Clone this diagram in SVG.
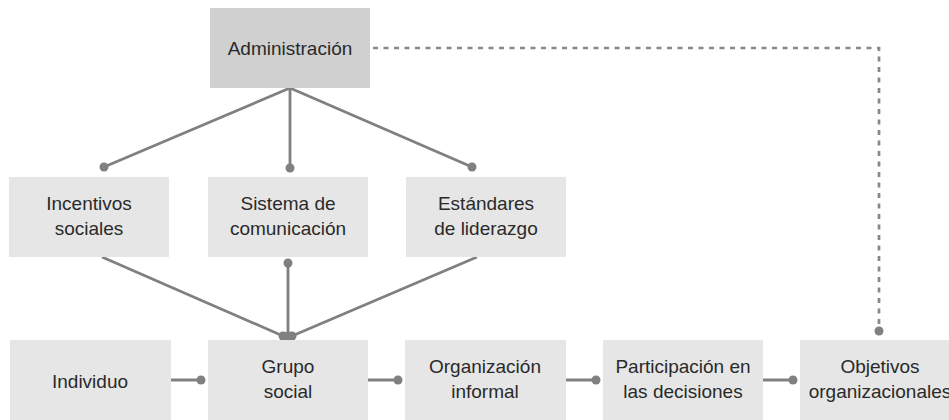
<svg xmlns="http://www.w3.org/2000/svg" width="949" height="420" viewBox="0 0 949 420">
<style>
.box{fill:#e6e6e6}
.adm{fill:#d0d0d0}
.t{font-family:"Liberation Sans",Arial,sans-serif;font-size:19px;fill:#2a2a2a;text-anchor:middle}
.ln{stroke:#808080;stroke-width:2.8;fill:none}
.ds{stroke:#888;stroke-width:2.7;fill:none;stroke-dasharray:5 5.5}
.dot{fill:#808080}
</style>
<rect width="949" height="420" fill="#fff"/>
<g id="connectors">
<path class="ln" d="M290 88 L104 167 M290 88 L290 168 M290 88 L472 167"/>
<circle class="dot" cx="104" cy="167" r="4.5"/>
<circle class="dot" cx="290" cy="168" r="4.5"/>
<circle class="dot" cx="472" cy="167" r="4.5"/>
<path class="ln" d="M102 257 L283 336 M288 263 L288 336 M477 257 L292 336"/>
<circle class="dot" cx="288" cy="263" r="4.5"/>
<circle class="dot" cx="283" cy="336" r="4.5"/>
<circle class="dot" cx="292" cy="336" r="4.5"/>
<circle class="dot" cx="288" cy="336" r="4.5"/>
<path class="ln" d="M171 380 H201 M368 380 H398 M566 380 H596 M763 380 H793"/>
<circle class="dot" cx="201" cy="380" r="4.5"/>
<circle class="dot" cx="398" cy="380" r="4.5"/>
<circle class="dot" cx="596" cy="380" r="4.5"/>
<circle class="dot" cx="793" cy="380" r="4.5"/>
<path class="ds" d="M373 48 H879 V330"/>
<circle class="dot" cx="879" cy="331" r="4.5"/>
</g>
<g id="administracion"><rect class="adm" x="210" y="8" width="160" height="80"/><text class="t" x="290" y="55">Administración</text></g>
<g id="incentivos"><rect class="box" x="9" y="177" width="160" height="80"/><text class="t" x="89" y="210">Incentivos</text><text class="t" x="89" y="235">sociales</text></g>
<g id="sistema"><rect class="box" x="208" y="177" width="160" height="80"/><text class="t" x="288" y="210">Sistema de</text><text class="t" x="288" y="235">comunicación</text></g>
<g id="estandares"><rect class="box" x="406" y="177" width="160" height="80"/><text class="t" x="486" y="210">Estándares</text><text class="t" x="486" y="235">de liderazgo</text></g>
<g id="individuo"><rect class="box" x="10" y="340" width="161" height="80"/><text class="t" x="90" y="388">Individuo</text></g>
<g id="grupo"><rect class="box" x="208" y="340" width="160" height="80"/><text class="t" x="288" y="373">Grupo</text><text class="t" x="288" y="398">social</text></g>
<g id="organizacion"><rect class="box" x="405" y="340" width="161" height="80"/><text class="t" x="485" y="373">Organización</text><text class="t" x="485" y="398">informal</text></g>
<g id="participacion"><rect class="box" x="603" y="340" width="160" height="80"/><text class="t" x="683" y="373">Participación en</text><text class="t" x="683" y="398">las decisiones</text></g>
<g id="objetivos"><rect class="box" x="800" y="340" width="160" height="80"/><text class="t" x="880" y="373">Objetivos</text><text class="t" x="880" y="398">organizacionales</text></g>
</svg>
